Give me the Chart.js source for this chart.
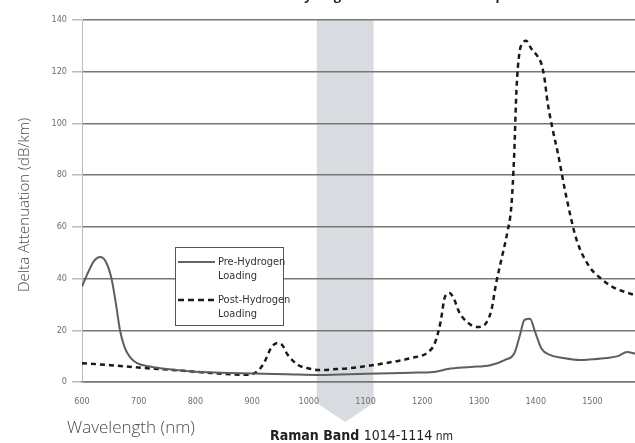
<!DOCTYPE html>
<html>
<head>
<meta charset="utf-8">
<script src="https://cdn.jsdelivr.net/npm/chart.js@4/dist/chart.umd.min.js"></script>
<style>
  html, body { margin: 0; padding: 0; background: #fff; }
  #wrap { width: 635px; height: 443px; position: relative; }
</style>
</head>
<body>
<div id="wrap"><canvas id="chart"></canvas></div>
<script>
// wavelength (nm) / delta attenuation (dB/km)
const preWavelength = [600, 612, 622, 632, 642, 652, 660, 667, 675, 685, 697, 720, 750, 800, 860, 920, 960, 1020, 1100, 1180, 1220, 1245, 1285, 1320, 1345, 1362, 1372, 1380, 1390, 1398, 1410, 1425, 1448, 1478, 1500, 1525, 1545, 1561, 1575];
const preValues = [37, 43, 47, 48.3, 46.5, 40, 30, 20, 13.5, 9.5, 7.3, 6, 5, 4, 3.5, 3.2, 3, 2.7, 3.2, 3.6, 3.9, 5, 5.8, 6.5, 8.5, 11, 18, 24, 24.5, 20, 13, 10.5, 9.3, 8.5, 8.8, 9.3, 10, 11.6, 11];

const postWavelength = [600, 650, 710, 770, 827, 887, 905, 920, 933, 943, 952, 963, 981, 1000, 1017, 1050, 1075, 1135, 1181, 1210, 1222, 1232, 1240, 1248, 1256, 1265, 1280, 1295, 1305, 1313, 1322, 1330, 1339, 1350, 1357, 1362, 1366, 1371, 1377, 1383, 1392, 1403, 1410, 1415, 1421, 1430, 1439, 1454, 1472, 1495, 1515, 1536, 1555, 1575];
const postValues = [7.3, 6.5, 5.4, 4.5, 3.5, 2.8, 3.5, 7, 13, 15, 14.5, 10.4, 6.6, 5.2, 4.6, 5, 5.4, 7.3, 9.3, 11.5, 15, 23, 33, 34.4, 32, 27, 23, 21.3, 21.5, 23, 28, 38, 47, 58, 68, 88, 113, 127, 131, 132, 129, 126, 123, 118, 108, 97.5, 88.5, 71.5, 55, 44.5, 40, 36.7, 35, 33.6];

const xTicks = [600, 700, 800, 900, 1000, 1100, 1200, 1300, 1400, 1500];
const yTicks = [0, 20, 40, 60, 80, 100, 120, 140];
const ramanBand = [1014, 1114];

const NARROW = '"Liberation Sans Narrow", "DejaVu Sans Condensed", Roboto, sans-serif';

const toPoints = (xs, ys) => xs.map((x, i) => ({ x: x, y: ys[i] }));

// shaded Raman band with arrow below the axis
const bandPlugin = {
  id: 'band',
  beforeDraw(chart) {
    const { ctx, chartArea, scales } = chart;
    const x1 = scales.x.getPixelForValue(ramanBand[0]);
    const x2 = scales.x.getPixelForValue(ramanBand[1]);
    const mid = (x1 + x2) / 2;
    ctx.save();
    ctx.fillStyle = '#d8dce1';
    ctx.beginPath();
    ctx.moveTo(x1, chartArea.top);
    ctx.lineTo(x2, chartArea.top);
    ctx.lineTo(x2, 403);
    ctx.lineTo(mid, 422);
    ctx.lineTo(x1, 403);
    ctx.closePath();
    ctx.fill();
    ctx.restore();
  }
};

// legend box and outer labels
const labelPlugin = {
  id: 'labels',
  afterDraw(chart) {
    const ctx = chart.ctx;
    ctx.save();

    // title, mostly cut off at the top of the scan
    ctx.fillStyle = '#222';
    ctx.font = 'bold 13px "Open Sans"';
    ctx.textAlign = 'center';
    ctx.textBaseline = 'alphabetic';
    ctx.fillText('Measured Effect of Hydrogen on the Attenuation Spectrum', 360, 0);

    // legend
    ctx.fillStyle = '#fff';
    ctx.fillRect(175, 247, 108, 78);
    ctx.strokeStyle = '#555';
    ctx.lineWidth = 1;
    ctx.strokeRect(175.5, 247.5, 108, 78);

    ctx.lineWidth = 2;
    ctx.strokeStyle = '#666';
    ctx.beginPath();
    ctx.moveTo(178, 262);
    ctx.lineTo(215, 262);
    ctx.stroke();

    ctx.lineWidth = 2.5;
    ctx.strokeStyle = '#1a1a1a';
    ctx.setLineDash([6, 4]);
    ctx.beginPath();
    ctx.moveTo(178, 300);
    ctx.lineTo(215, 300);
    ctx.stroke();
    ctx.setLineDash([]);

    ctx.fillStyle = '#333';
    ctx.font = '11px ' + NARROW;
    ctx.textAlign = 'left';
    ctx.textBaseline = 'middle';
    ctx.fillText('Pre-Hydrogen', 218, 262);
    ctx.fillText('Loading', 218, 276);
    ctx.fillText('Post-Hydrogen', 218, 300);
    ctx.fillText('Loading', 218, 314);

    // axis titles
    ctx.fillStyle = '#4a4a4a';
    ctx.font = '300 15px "Open Sans"';
    ctx.save();
    ctx.translate(25, 205);
    ctx.rotate(-Math.PI / 2);
    ctx.textAlign = 'center';
    ctx.fillText('Delta Attenuation (dB/km)', 0, 0);
    ctx.restore();

    ctx.font = '300 17px "Open Sans"';
    ctx.textAlign = 'left';
    ctx.fillText('Wavelength (nm)', 67, 428);

    // Raman band caption
    ctx.fillStyle = '#222';
    ctx.textAlign = 'left';
    ctx.font = 'bold 14px ' + NARROW;
    const bold = 'Raman Band ';
    ctx.fillText(bold, 270, 436);
    const w = ctx.measureText(bold).width;
    ctx.font = '14px ' + NARROW;
    ctx.fillText('1014-1114', 270 + w, 436);
    const w2 = ctx.measureText('1014-1114').width;
    ctx.font = '12px ' + NARROW;
    ctx.fillText(' nm', 270 + w + w2, 437);

    ctx.restore();
  }
};

const chart = new Chart(document.getElementById('chart'), {
  type: 'line',
  data: {
    datasets: [
      {
        label: 'Pre-Hydrogen Loading',
        data: toPoints(preWavelength, preValues),
        borderColor: '#5e5e5e',
        borderWidth: 2,
        pointRadius: 0,
        cubicInterpolationMode: 'monotone'
      },
      {
        label: 'Post-Hydrogen Loading',
        data: toPoints(postWavelength, postValues),
        borderColor: '#1a1a1a',
        borderWidth: 2.5,
        borderDash: [5, 4],
        pointRadius: 0,
        cubicInterpolationMode: 'monotone'
      }
    ]
  },
  options: {
    responsive: true,
    maintainAspectRatio: false,
    animation: false,
    layout: { padding: { top: 20, left: 0, right: 0, bottom: 0 } },
    plugins: {
      legend: { display: false },
      tooltip: { enabled: false }
    },
    scales: {
      x: {
        type: 'linear',
        min: 600,
        max: 1575,
        afterBuildTicks: s => { s.ticks = xTicks.map(v => ({ value: v })); },
        afterFit: s => { s.height = 61; },
        grid: { display: false },
        border: { display: true, color: '#777', width: 1.5 },
        ticks: {
          padding: 6,
          color: '#6e6e6e',
          font: { family: NARROW, size: 9 },
          maxRotation: 0,
          callback: v => String(v)
        }
      },
      y: {
        min: 0,
        max: 140,
        afterBuildTicks: s => { s.ticks = yTicks.map(v => ({ value: v })); },
        afterFit: s => { s.width = 82; },
        grid: {
          color: '#777',
          lineWidth: 1.5,
          drawTicks: true,
          tickLength: 10,
          tickColor: '#bbb'
        },
        border: { display: true, color: '#bbb', width: 1 },
        ticks: {
          padding: 5,
          color: '#6e6e6e',
          font: { family: NARROW, size: 9 },
          callback: v => String(v)
        }
      }
    }
  },
  plugins: [bandPlugin, labelPlugin]
});
</script>
</body>
</html>
